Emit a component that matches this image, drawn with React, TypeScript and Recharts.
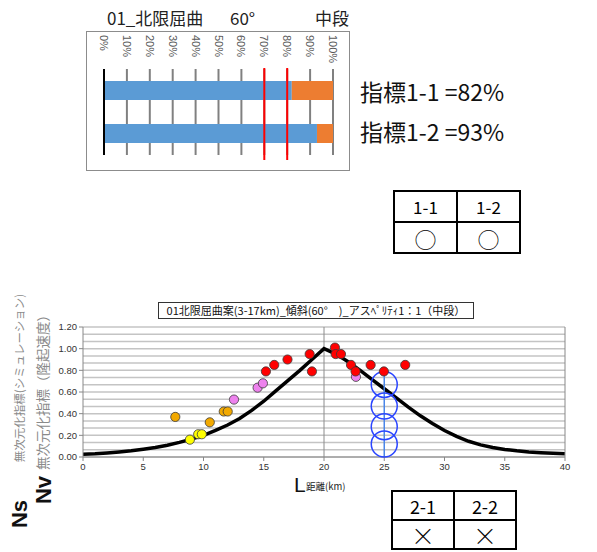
import React from "react";
import {
  BarChart,
  Bar,
  XAxis,
  YAxis,
  CartesianGrid,
  ReferenceLine,
  ReferenceDot,
  ComposedChart,
  Line,
  Scatter,
} from "recharts";

const JP = '"Noto Sans CJK JP", "Noto Sans", sans-serif';
const NUM = '"Liberation Sans", Arial, sans-serif';

// ---- top: index bars ----
const INDEX_NAMES = ["指標1-1", "指標1-2"];
const INDEX_PASS = [0.82, 0.93];
const INDEX_REST = [0.18, 0.07];
const PCT_TICKS = [0, 0.1, 0.2, 0.3, 0.4, 0.5, 0.6, 0.7, 0.8, 0.9, 1];
const THRESHOLDS = [0.7, 0.8];
const TABLE1_HEAD = ["1-1", "1-2"];
const TABLE1_MARK = ["○", "○"];

// ---- bottom: distance vs dimensionless index ----
const DIST_KM = [
  0, 1, 2, 3, 4, 5, 6, 7, 8, 9, 10, 11, 12, 13, 14, 15, 16, 17, 18, 19, 20,
  21, 22, 23, 24, 25, 26, 27, 28, 29, 30, 31, 32, 33, 34, 35, 36, 37, 38, 39, 40,
];
const NV_CURVE = [
  0.025, 0.03, 0.038, 0.047, 0.058, 0.072, 0.088, 0.108, 0.135, 0.165, 0.2,
  0.245, 0.295, 0.355, 0.43, 0.515, 0.61, 0.705, 0.8, 0.9, 1.0,
  0.95, 0.88, 0.8, 0.715, 0.63, 0.545, 0.46, 0.38, 0.31, 0.245,
  0.19, 0.145, 0.112, 0.088, 0.07, 0.057, 0.047, 0.04, 0.035, 0.03,
];

const ORANGE_X = [7.66, 10.52, 11.68, 12.01];
const ORANGE_Y = [0.37, 0.32, 0.42, 0.42];
const YELLOW_X = [8.87, 9.56, 9.86];
const YELLOW_Y = [0.16, 0.21, 0.21];
const PINK_X = [12.53, 14.49, 14.93, 22.65];
const PINK_Y = [0.53, 0.64, 0.68, 0.74];
const RED_X = [15.18, 15.87, 16.97, 18.81, 19.0, 20.91, 20.97, 21.41, 22.24, 22.62, 23.87, 24.97, 26.74];
const RED_Y = [0.79, 0.85, 0.9, 0.95, 0.79, 1.01, 0.95, 0.95, 0.85, 0.79, 0.85, 0.79, 0.85];

const X_TICKS = [0, 5, 10, 15, 20, 25, 30, 35, 40];
const Y_TICKS = [0, 0.2, 0.4, 0.6, 0.8, 1.0, 1.2];
const Y_GRID = [
  0, 0.0667, 0.1333, 0.2, 0.2667, 0.3333, 0.4, 0.4667, 0.5333, 0.6, 0.6667, 0.7333,
  0.8, 0.8667, 0.9333, 1.0, 1.0667, 1.1333, 1.2,
];
const SITE_KM = 25;
const SITE_TOP = 0.79;
const COIL_Y = [0.67, 0.47, 0.28, 0.12];
const TABLE2_HEAD = ["2-1", "2-2"];
const TABLE2_MARK = ["×", "×"];

const barData = INDEX_NAMES.map((name, i) => ({ name, pass: INDEX_PASS[i], rest: INDEX_REST[i] }));
const curveData = DIST_KM.map((x, i) => ({ x, y: NV_CURVE[i] }));
const pts = (xs: number[], ys: number[]) => xs.map((x, i) => ({ x, y: ys[i] }));

const PctTick = (props: any) => {
  const { x, payload } = props;
  const y = 4;
  return (
    <text
      x={x}
      y={y}
      transform={`rotate(90 ${x} ${y})`}
      textAnchor="start"
      dominantBaseline="central"
      fontSize={11}
      fontFamily={NUM}
      fill="#595959"
    >
      {Math.round(payload.value * 100) + "%"}
    </text>
  );
};

const dot = (fill: string) => (p: any) =>
  <circle cx={p.cx} cy={p.cy} r={4.6} fill={fill} stroke="#3a3a3a" strokeWidth={0.8} />;

// minor grid rows placed with the y axis scale
const gridRows = (args: any) => {
  const sc = args?.yAxis?.scale;
  if (!sc) return [];
  const f = typeof sc.map === "function" ? (v: number) => sc.map(v) : (v: number) => sc(v);
  return Y_GRID.map(f);
};

// 2x2 judgement table drawn as a css grid (black gaps = borders)
function MarkTable({ head, marks, left, top, w, h, size, markSize }: any) {
  const cell: React.CSSProperties = {
    background: "#fff",
    display: "flex",
    alignItems: "center",
    justifyContent: "center",
    fontFamily: JP,
    lineHeight: 1,
    color: "#000",
  };
  return (
    <div
      style={{
        position: "absolute",
        left,
        top,
        width: w,
        height: h,
        boxSizing: "border-box",
        background: "#000",
        padding: 2,
        gap: 2,
        display: "grid",
        gridTemplateColumns: "1fr 1fr",
        gridTemplateRows: "1fr 1fr",
      }}
    >
      {head.map((t: string) => (
        <div key={t} style={{ ...cell, fontSize: size }}>{t}</div>
      ))}
      {marks.map((t: string, i: number) => (
        <div key={i} style={{ ...cell, fontSize: markSize, fontWeight: 300 }}>{t}</div>
      ))}
    </div>
  );
}

const rotLabel = (cx: number, cy: number): React.CSSProperties => ({
  position: "absolute",
  left: cx,
  top: cy,
  whiteSpace: "nowrap",
  transform: "translate(-50%, -50%) rotate(-90deg)",
  lineHeight: 1,
});

export default function App() {
  return (
    <div
      style={{
        position: "absolute",
        left: 0,
        top: 0,
        width: 597,
        height: 552,
        background: "#fff",
        fontFamily: JP,
        overflow: "hidden",
      }}
    >
      {/* top title */}
      <div style={{ position: "absolute", left: 107, top: 5, fontSize: 17, color: "#222", whiteSpace: "pre" }}>
        01_北限屈曲
      </div>
      <div style={{ position: "absolute", left: 230, top: 5, fontSize: 17, color: "#222" }}>60°</div>
      <div style={{ position: "absolute", left: 315, top: 5, fontSize: 17, color: "#222" }}>中段</div>

      {/* top box */}
      <div
        style={{
          position: "absolute",
          left: 86,
          top: 31,
          width: 264,
          height: 140,
          border: "1.5px solid #8c8c8c",
          boxSizing: "border-box",
        }}
      />
      <div style={{ position: "absolute", left: 86, top: 31 }}>
        <BarChart
          width={266}
          height={135}
          data={barData}
          layout="vertical"
          margin={{ top: 0, right: 19, bottom: 11, left: 18 }}
          barCategoryGap={12}
        >
          <CartesianGrid horizontal={false} stroke="#808080" strokeWidth={2} />
          <XAxis
            type="number"
            orientation="top"
            domain={[0, 1]}
            ticks={PCT_TICKS}
            height={38}
            axisLine={false}
            tickLine={false}
            tick={<PctTick />}
            interval={0}
          />
          <YAxis type="category" dataKey="name" hide width={0} />
          <Bar dataKey="pass" stackId="a" fill="#5b9bd5" barSize={19} isAnimationActive={false} />
          <Bar dataKey="rest" stackId="a" fill="#ed7d31" barSize={19} isAnimationActive={false} />
          <ReferenceLine x={0} stroke="#000" strokeWidth={2} />
          {THRESHOLDS.map((t) => (
            <ReferenceLine
              key={t}
              x={t}
              stroke="#ff0000"
              strokeWidth={2}
              shape={(p: any) => (
                <line x1={p.x1} x2={p.x2} y1={Math.min(p.y1, p.y2) - 1} y2={Math.max(p.y1, p.y2) + 5} stroke="#ff0000" strokeWidth={2} />
              )}
            />
          ))}
        </BarChart>
      </div>

      {INDEX_NAMES.map((n, i) => (
        <div
          key={n}
          style={{ position: "absolute", left: 360, top: 80 + i * 40, fontSize: 23, lineHeight: 1, color: "#111", whiteSpace: "nowrap" }}
        >
          {`${n} =${Math.round(INDEX_PASS[i] * 100)}%`}
        </div>
      ))}

      <MarkTable head={TABLE1_HEAD} marks={TABLE1_MARK} left={393} top={190} w={128} h={64} size={17} markSize={22} />

      {/* bottom chart */}
      <div
        style={{
          position: "absolute",
          left: 158,
          top: 302,
          width: 316,
          height: 17,
          border: "1px solid #333",
          boxSizing: "border-box",
          fontSize: 11,
          lineHeight: "15px",
          textAlign: "center",
          color: "#111",
          background: "#fff",
          whiteSpace: "nowrap",
          zIndex: 2,
        }}
      >
        01北限屈曲案(3-17km)_傾斜(60°　)_アスﾍﾟﾘﾃｨ1：1（中段）
      </div>
      <div style={{ position: "absolute", left: 0, top: 290 }}>
        <ComposedChart width={597} height={200} margin={{ top: 37, right: 2, bottom: 13, left: 53 }}>
          <CartesianGrid
            yAxisId="l"
            vertical={false}
            horizontalValues={Y_GRID}
            horizontalCoordinatesGenerator={gridRows}
            syncWithTicks={false}
            stroke="#c4c4c4"
            strokeWidth={1.5}
          />
          <XAxis
            type="number"
            dataKey="x"
            domain={[0, 40]}
            ticks={X_TICKS}
            height={20}
            stroke="#888"
            tick={{ fontSize: 9.5, fill: "#333", fontFamily: NUM }}
            tickSize={4}
            allowDataOverflow
          />
          <YAxis
            yAxisId="l"
            domain={[0, 1.2]}
            ticks={Y_TICKS}
            width={30}
            stroke="#888"
            tickSize={4}
            tick={{ fontSize: 9.5, fill: "#333", fontFamily: NUM }}
            tickFormatter={(v: number) => v.toFixed(2)}
          />
          <YAxis
            yAxisId="r"
            orientation="right"
            domain={[0, 1.2]}
            ticks={Y_TICKS}
            width={30}
            stroke="#888"
            tickSize={4}
            tick={{ fontSize: 9.5, fill: "#333", fontFamily: NUM }}
            tickFormatter={(v: number) => v.toFixed(2)}
          />
          <ReferenceLine yAxisId="l" x={20} stroke="#8c8c8c" strokeWidth={1} />
          <Line
            yAxisId="l"
            data={curveData}
            dataKey="y"
            type="linear"
            stroke="#000"
            strokeWidth={3.5}
            dot={false}
            isAnimationActive={false}
          />
          <ReferenceLine
            yAxisId="l"
            segment={[{ x: SITE_KM, y: 0 }, { x: SITE_KM, y: SITE_TOP }]}
            stroke="#4a86e8"
            strokeWidth={1.5}
          />
          {COIL_Y.map((c) => (
            <ReferenceDot
              key={c}
              yAxisId="l"
              x={SITE_KM}
              y={c}
              r={13}
              fill="none"
              stroke="#2a45ff"
              strokeWidth={1.5}
            />
          ))}
          <Scatter yAxisId="l" data={pts(ORANGE_X, ORANGE_Y)} dataKey="y" shape={dot("#f2a900")} isAnimationActive={false} />
          <Scatter yAxisId="l" data={pts(YELLOW_X, YELLOW_Y)} dataKey="y" shape={dot("#ffff00")} isAnimationActive={false} />
          <Scatter yAxisId="l" data={pts(PINK_X, PINK_Y)} dataKey="y" shape={dot("#ee82ee")} isAnimationActive={false} />
          <Scatter yAxisId="l" data={pts(RED_X, RED_Y)} dataKey="y" shape={dot("#ff0000")} isAnimationActive={false} />
        </ComposedChart>
      </div>

      {/* y axis captions */}
      <div style={{ ...rotLabel(20, 378), fontSize: 11.5, color: "#8a8a8a" }}>無次元化指標(シミュレーション)</div>
      <div style={{ ...rotLabel(43, 389), fontSize: 13.5, color: "#8a8a8a" }}>無次元化指標（隆起速度）</div>
      <div style={{ ...rotLabel(20, 514), fontSize: 22, fontWeight: 700, color: "#111", fontFamily: NUM }}>Ns</div>
      <div style={{ ...rotLabel(44, 490), fontSize: 22, fontWeight: 700, color: "#111", fontFamily: NUM }}>Nv</div>

      {/* x axis caption */}
      <div style={{ position: "absolute", left: 294, top: 474, fontSize: 21, color: "#111", fontFamily: NUM, lineHeight: 1 }}>L</div>
      <div style={{ position: "absolute", left: 306, top: 479, fontSize: 9.5, color: "#222", whiteSpace: "nowrap" }}>距離(km)</div>

      <MarkTable head={TABLE2_HEAD} marks={TABLE2_MARK} left={391} top={490} w={126} h={60} size={18} markSize={24} />
    </div>
  );
}
